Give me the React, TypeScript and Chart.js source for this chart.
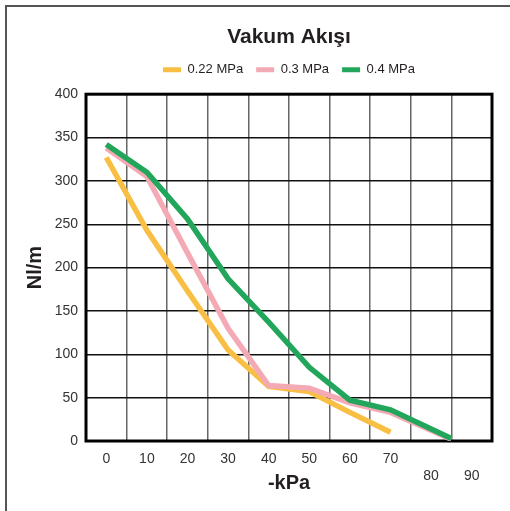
import React, { useEffect, useRef } from "react";
import { Chart, registerables } from "chart.js";

Chart.register(...registerables);

const chartTitle = "Vakum Akışı";
const seriesNames = ["0.22 MPa", "0.3 MPa", "0.4 MPa"];
const seriesColors = ["#F9BF45", "#F3AAB4", "#21A65B"];
const vacuumKpa = [0, 10, 20, 30, 40, 50, 60, 70, 85];
const flow022 = [327, 243, 173, 105, 63, 57, 33, 10];
const flow03 = [338, 305, 217, 130, 64, 61, 44, 33, 2];
const flow04 = [342, 310, 256, 187, 137, 85, 47, 36, 3];
const xTickValues = [0, 10, 20, 30, 40, 50, 60, 70, 80, 90];
const xTickLabels = ["0", "10", "20", "30", "40", "50", "60", "70", "80", "90"];
const loweredTickLabels = ["80", "90"];
const yTickValues = [0, 50, 100, 150, 200, 250, 300, 350, 400];
const xAxisTitle = "-kPa";
const yAxisTitle = "Nl/m";

const FONT = "'Liberation Sans', Arial, Helvetica, sans-serif";

const framePlugin = {
  id: "frame",
  beforeDatasetsDraw(chart: any) {
    const { ctx, chartArea } = chart;
    ctx.save();
    ctx.strokeStyle = "#000";
    ctx.lineWidth = 3;
    ctx.strokeRect(chartArea.left, chartArea.top, chartArea.right - chartArea.left, chartArea.bottom - chartArea.top);
    ctx.restore();
  },
};

function toPoints(values: number[]) {
  return values.map((y, i) => ({ x: vacuumKpa[i], y }));
}

export default function App() {
  const ref = useRef<HTMLCanvasElement>(null);
  useEffect(() => {
    if (!ref.current) return;
    const allSeries = [flow022, flow03, flow04];
    const chart = new Chart(ref.current, {
      type: "line",
      data: {
        datasets: allSeries.map((vals, i) => ({
          label: seriesNames[i],
          data: toPoints(vals),
          borderColor: seriesColors[i],
          backgroundColor: seriesColors[i],
          borderWidth: 5.5,
          pointRadius: 0,
          tension: 0,
          fill: false,
          borderCapStyle: "butt" as const,
          borderJoinStyle: "miter" as const,
          order: 3 - i,
        })),
      },
      options: {
        responsive: false,
        animation: false,
        layout: { padding: { left: 0, right: 18, top: 0, bottom: 0 } },
        plugins: {
          title: {
            display: true,
            text: chartTitle,
            fullSize: false,
            color: "#231f20",
            font: { family: FONT, size: 21, weight: "bold" },
            padding: { top: 25, bottom: 0 },
          },
          subtitle: {
            display: true,
            text: "",
            fullSize: false,
            weight: 500,
            font: { family: FONT, size: 1 },
            padding: { top: 0, bottom: 6.8 },
          } as any,
          legend: {
            display: true,
            fullSize: false,
            labels: {
              boxWidth: 18,
              boxHeight: 5,
              padding: 13,
              color: "#231f20",
              font: { family: FONT, size: 13 },
              generateLabels: (c: any) =>
                (Chart.defaults.plugins.legend.labels.generateLabels as any)(c)
                  .map((l: any) => ({ ...l, lineWidth: 0, strokeStyle: "rgba(0,0,0,0)" }))
                  .sort((a: any, b: any) => a.datasetIndex - b.datasetIndex),
            },
          },
          tooltip: { enabled: false },
        },
        scales: {
          x: {
            type: "linear",
            min: -5,
            max: 95,
            afterBuildTicks: (scale: any) => {
              scale.ticks = xTickValues.map((v) => ({ value: v }));
            },
            afterFit: (scale: any) => {
              scale.height = 70;
            },
            ticks: {
              color: "#333",
              font: { family: FONT, size: 14 },
              padding: 10,
              maxRotation: 0,
              autoSkip: false,
              callback: (v: any) => {
                const idx = xTickValues.indexOf(Number(v));
                const lbl = idx >= 0 ? xTickLabels[idx] : "";
                return loweredTickLabels.includes(lbl) ? ["", lbl] : lbl;
              },
            },
            grid: { offset: true, color: "#666", lineWidth: 1.5, drawTicks: false },
            border: { display: false },
            title: {
              display: true,
              text: xAxisTitle,
              color: "#231f20",
              font: { family: FONT, size: 20, weight: "bold" },
              padding: { top: 0, bottom: 16 },
            },
          },
          y: {
            type: "linear",
            min: 0,
            max: 400,
            afterBuildTicks: (scale: any) => {
              scale.ticks = yTickValues.map((v) => ({ value: v }));
            },
            afterFit: (scale: any) => {
              scale.width = 86;
            },
            ticks: {
              color: "#333",
              font: { family: FONT, size: 14 },
              padding: 8,
            },
            grid: { color: "#111", lineWidth: 1.5, drawTicks: false },
            border: { display: false },
            title: {
              display: true,
              text: yAxisTitle,
              color: "#231f20",
              font: { family: FONT, size: 20, weight: "bold" },
              padding: { top: 23, bottom: 0 },
            },
          },
        },
      },
      plugins: [framePlugin],
    });
    return () => chart.destroy();
  }, []);

  return (
    <div style={{ position: "fixed", left: 0, top: 0, width: 510, height: 511, overflow: "hidden", background: "#fff" }}>
      <div
        style={{
          position: "absolute",
          left: 5,
          top: 5,
          width: 700,
          height: 700,
          borderLeft: "2px solid #555",
          borderTop: "2px solid #555",
        }}
      />
      <canvas ref={ref} width={510} height={511} style={{ position: "absolute", left: 0, top: 0, width: 510, height: 511 }} />
    </div>
  );
}
